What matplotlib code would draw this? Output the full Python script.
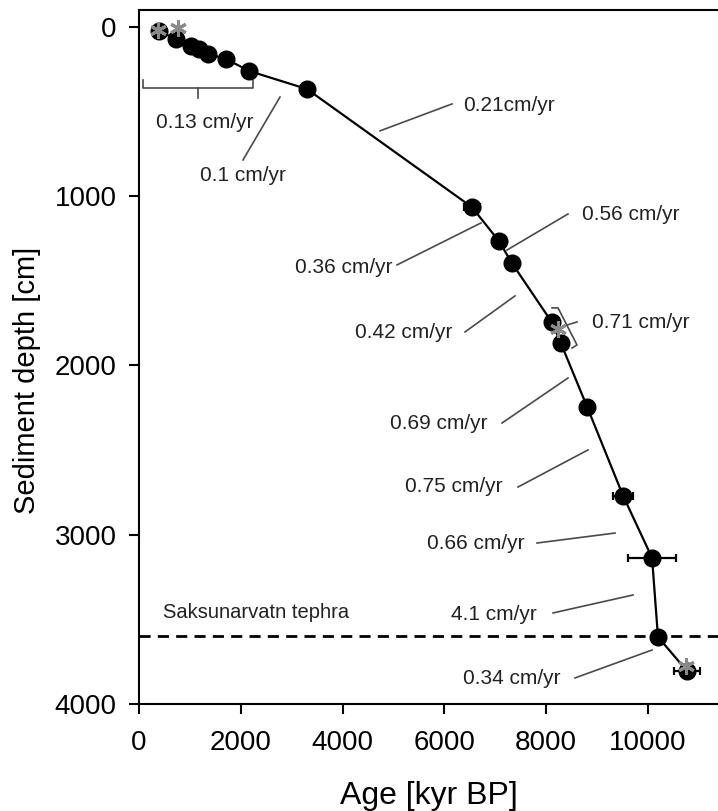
import matplotlib
matplotlib.use("Agg")
import matplotlib.pyplot as plt

# ---- data ----
age = [390, 727, 1022, 1179, 1356, 1709, 2161, 3300, 6542, 7073, 7328,
       8114, 8290, 8802, 9509, 10079, 10196, 10766]
depth = [25, 71, 112, 130, 160, 189, 260, 367, 1065, 1266, 1396,
         1746, 1870, 2243, 2769, 3136, 3604, 3805]
age_err = [0, 0, 0, 0, 0, 0, 0, 0, 150, 100, 0,
           0, 0, 120, 200, 480, 0, 260]

star_age = [375, 766, 8232, 10747]
star_depth = [20, 6, 1787, 3775]

tephra_depth = 3600
tephra_label = "Saksunarvatn tephra"

x_ticks = [0, 2000, 4000, 6000, 8000, 10000]
y_ticks = [0, 1000, 2000, 3000, 4000]

# rate labels: text, text position, alignment, leader line (x0,y0,x1,y1)
rate_labels = [
    ("0.1 cm/yr", (2043, 880), "center", (2770, 414, 2043, 786)),
    ("0.21cm/yr", (6365, 467), "left", (4735, 614, 6149, 455)),
    ("0.36 cm/yr", (4990, 1424), "right", (5069, 1406, 6719, 1158)),
    ("0.56 cm/yr", (8703, 1111), "left", (8428, 1105, 7230, 1318)),
    ("0.42 cm/yr", (6149, 1808), "right", (6405, 1802, 7387, 1589)),
    ("0.71 cm/yr", (8900, 1749), "left", None),
    ("0.69 cm/yr", (6837, 2340), "right", (7132, 2340, 8428, 2074)),
    ("0.75 cm/yr", (7151, 2718), "right", (7446, 2718, 8821, 2499)),
    ("0.66 cm/yr", (7583, 3049), "right", (7819, 3049, 9352, 2990)),
    ("4.1 cm/yr", (7819, 3474), "right", (8134, 3462, 9705, 3356)),
    ("0.34 cm/yr", (8271, 3852), "right", (8566, 3846, 10079, 3681)),
]

fig = plt.figure(figsize=(7.18, 8.11), dpi=100)
plt.rcParams['font.family'] = ['Liberation Sans', 'DejaVu Sans']
ax = fig.add_axes([139 / 718, 1 - 704 / 811, 1 - 139 / 718, (704 - 10) / 811])

# tephra line
ax.axhline(tephra_depth, color='black', lw=2, ls=(0, (4, 2.6)), zorder=1)
ax.text(472, tephra_depth - 138, tephra_label, fontsize=14.5, color='#222',
        ha='left', va='center')

# age-depth line with error bars
ax.errorbar(age, depth, xerr=age_err, fmt='-o', color='black', ms=12,
            lw=1.6, elinewidth=1.6, capsize=3, capthick=1.6, zorder=3)
ax.plot(star_age, star_depth, ls='none', marker=(6, 2, 0), ms=12,
        mew=2.2, color='#8a8a8a', zorder=4)

gray = '#4a4a4a'
# 0.13 bracket
ax.plot([79, 79, 2240, 2240], [313, 360, 360, 313], color=gray, lw=1.2)
ax.plot([1159, 1159], [360, 420], color=gray, lw=1.2)
ax.text(1297, 567, "0.13 cm/yr", fontsize=15, color='#222', ha='center', va='center')

# 0.71 bracket
ax.plot([8114, 8232, 8605, 8507], [1660, 1660, 1879, 1897], color=gray, lw=1.2)
ax.plot([8410, 8605], [1761, 1743], color=gray, lw=1.2)

for txt, (tx, ty), ha, line in rate_labels:
    ax.text(tx, ty, txt, fontsize=15, color='#222', ha=ha, va='center')
    if line is not None:
        ax.plot([line[0], line[2]], [line[1], line[3]], color=gray, lw=1.2)

ax.set_xlim(0, 11375)
ax.set_ylim(4000, -100)
ax.set_xticks(x_ticks)
ax.set_yticks(y_ticks)
ax.tick_params(labelsize=20, length=7, width=1.5, direction='out')
ax.tick_params(axis='x', pad=12)
ax.tick_params(axis='y', pad=9)
for s in ['left', 'bottom', 'top']:
    ax.spines[s].set_linewidth(1.5)
ax.spines['right'].set_visible(False)
ax.set_xlabel("Age [kyr BP]", fontsize=23, labelpad=18)
ax.set_ylabel("Sediment depth [cm]", fontsize=21)
ax.yaxis.set_label_coords(-0.17, 0.467)

fig.savefig("out.png", dpi=100)
